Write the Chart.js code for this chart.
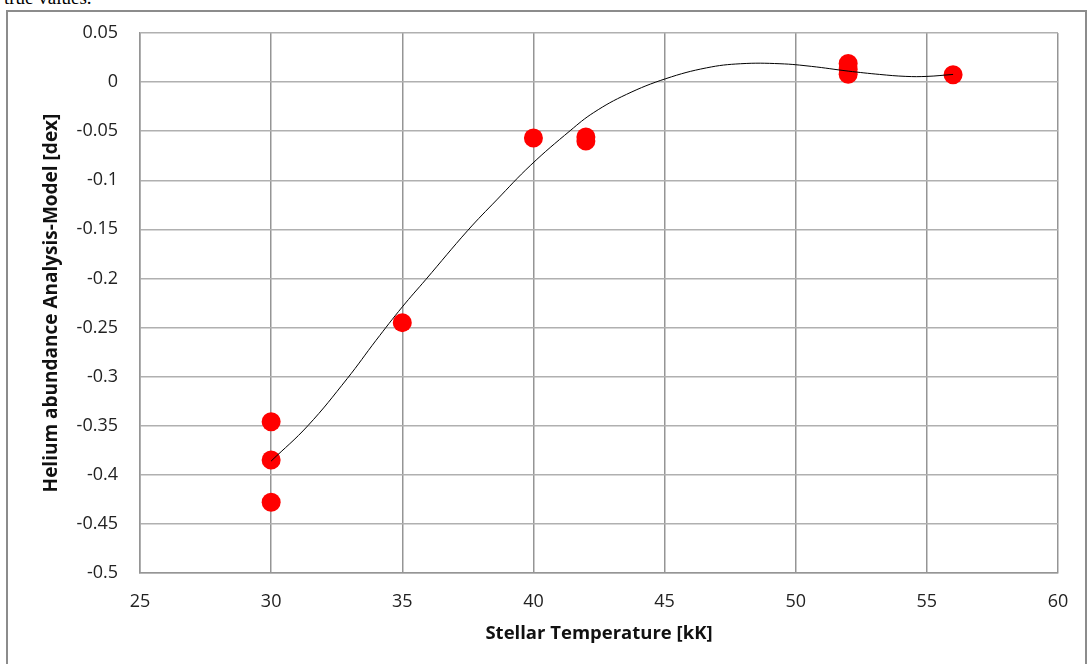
<!DOCTYPE html>
<html>
<head>
<meta charset="utf-8">
<script src="https://cdn.jsdelivr.net/npm/chart.js@4"></script>
<style>
  html, body { margin: 0; padding: 0; background: #fff; width: 1087px; height: 664px; overflow: hidden; }
  .cut-text { position: absolute; left: 4px; top: -13px; font: 19px "Liberation Serif", serif; color: #000; }
  .frame { position: absolute; left: 6px; top: 10px; width: 1077px; height: 700px; border: 2px solid #8c8c8c; }
  #wrap { position: absolute; left: 0; top: 0; width: 1087px; height: 664px; }
</style>
</head>
<body>
<div class="cut-text">true values.</div>
<div class="frame"></div>
<div id="wrap"><canvas id="chart" width="1087" height="664"></canvas></div>
<script>
// measured stars (temperature in kK, He abundance difference in dex)
const starTemps = [30, 30, 30, 35, 40, 42, 42, 52, 52, 52, 56];
const starHe = [-0.346, -0.385, -0.428, -0.245, -0.057, -0.056, -0.060, 0.019, 0.013, 0.008, 0.0075];

// trend line
const trendTemps = [30, 31.4, 32.9, 34.0, 35.0, 35.9, 37.5, 38.6, 39.9, 41.4, 42.3, 43.55, 45.05, 46.6, 47.9, 49.4, 50.6, 52.0, 53.2, 54.2, 55.0, 56.0];
const trendHe = [-0.386, -0.350, -0.302, -0.263, -0.229, -0.201, -0.151, -0.120, -0.0845, -0.0495, -0.031, -0.0125, 0.0035, 0.0145, 0.0187, 0.0187, 0.016, 0.0112, 0.0078, 0.0058, 0.0058, 0.0078];

const xTicks = [25, 30, 35, 40, 45, 50, 55, 60];
const yTicks = [-0.5, -0.45, -0.4, -0.35, -0.3, -0.25, -0.2, -0.15, -0.1, -0.05, 0, 0.05];

const fontFamily = '"Open Sans", "Liberation Sans", sans-serif';

document.addEventListener("DOMContentLoaded", () => {
    const ctx = document.getElementById("chart").getContext("2d");
    new Chart(ctx, {
        type: 'scatter',
        data: {
            datasets: [{
                type: 'line',
                data: trendTemps.map((t, i) => ({ x: t, y: trendHe[i] })),
                borderColor: '#000',
                borderWidth: 1,
                pointRadius: 0,
                tension: 0.4,
                fill: false,
                order: 0
            }, {
                data: starTemps.map((t, i) => ({ x: t, y: starHe[i] })),
                backgroundColor: '#ff0000',
                borderWidth: 0,
                pointRadius: 9.5,
                order: 1
            }]
        },
        options: {
            responsive: false,
            animation: false,
            layout: { padding: { left: 0, top: 33, right: 29, bottom: 0 } },
            plugins: {
                legend: { display: false },
                tooltip: { enabled: false }
            },
            scales: {
                x: {
                    type: 'linear',
                    min: 25,
                    max: 60,
                    afterBuildTicks: scale => { scale.ticks = xTicks.map(v => ({ value: v })); },
                    afterFit: scale => { scale.height = 91; },
                    grid: { color: '#959595', lineWidth: 1.5, drawTicks: false },
                    border: { color: '#959595', width: 1.5 },
                    ticks: {
                        padding: 18,
                        color: '#222',
                        font: { family: fontFamily, size: 18 },
                        callback: v => String(v)
                    },
                    title: {
                        display: true,
                        text: 'Stellar Temperature [kK]',
                        color: '#111',
                        font: { family: fontFamily, size: 18.5, weight: 'bold' },
                        padding: { top: 0, bottom: 19 }
                    }
                },
                y: {
                    type: 'linear',
                    min: -0.5,
                    max: 0.05,
                    afterBuildTicks: scale => { scale.ticks = yTicks.map(v => ({ value: v })); },
                    afterFit: scale => { scale.width = 140; },
                    grid: { color: '#b0b0b0', lineWidth: 1.5, drawTicks: false },
                    border: { color: '#959595', width: 1.5 },
                    ticks: {
                        padding: 22,
                        color: '#222',
                        font: { family: fontFamily, size: 18 },
                        callback: v => String(v)
                    },
                    title: {
                        display: true,
                        text: 'Helium abundance Analysis-Model [dex]',
                        color: '#111',
                        font: { family: fontFamily, size: 19, weight: 'bold' },
                        padding: { top: 40, bottom: 0 }
                    }
                }
            }
        }
    });
});
</script>
</body>
</html>
